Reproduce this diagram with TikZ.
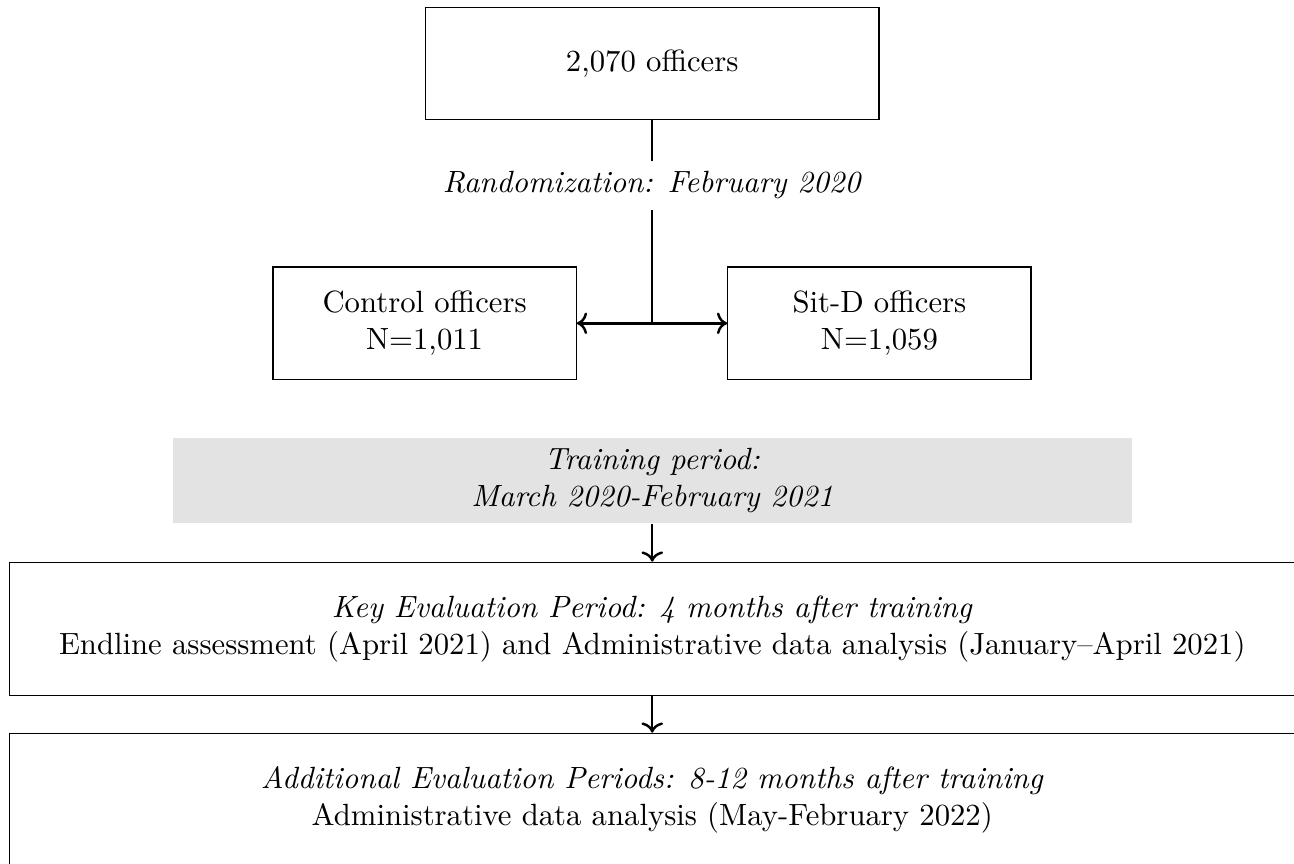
\documentclass[tikz,border=0pt]{standalone}
\usepackage{tikz}
\usetikzlibrary{arrows.meta, positioning}

\begin{document}
\begin{tikzpicture}[
    box/.style={rectangle, draw, align=center, minimum height=1.29cm},
    widebox/.style={rectangle, draw, align=center, minimum width=14.72cm, minimum height=1.52cm},
    band/.style={rectangle, fill=gray!22, align=center, minimum width=10.97cm, minimum height=0.97cm},
    link/.style={thick}
]
    \useasboundingbox (0, 0) rectangle (14.81, -9.88);

    \node[box, minimum width=5.19cm] (all) at (7.465, -0.727) {2,070 officers};
    \node (rand) at (7.465, -2.12) {\textit{Randomization: February 2020}};
    \coordinate (split) at (7.465, -3.70);
    \node[box, minimum width=3.47cm] (control) at (4.86, -3.70) {Control officers\\N=1,011};
    \node[box, minimum width=3.47cm] (sitd) at (10.065, -3.70) {Sit-D officers\\N=1,059};
    \node[band] (train) at (7.465, -5.50) {\textit{Training period:}\\\textit{March 2020-February 2021}};
    \node[widebox] (key) at (7.465, -7.196) {\textit{Key Evaluation Period: 4 months after training}\\Endline assessment (April 2021) and Administrative data analysis (January--April 2021)};
    \node[widebox] (extra) at (7.465, -9.153) {\textit{Additional Evaluation Periods: 8-12 months after training}\\Administrative data analysis (May-February 2022)};

    \draw[link] (all) -- (rand);
    \draw[link] (rand) -- (split);
    \draw[link, ->] (split) -- (control);
    \draw[link, ->] (split) -- (sitd);
    \draw[link, ->] (train) -- (key);
    \draw[link, ->] (key) -- (extra);
\end{tikzpicture}
\end{document}
